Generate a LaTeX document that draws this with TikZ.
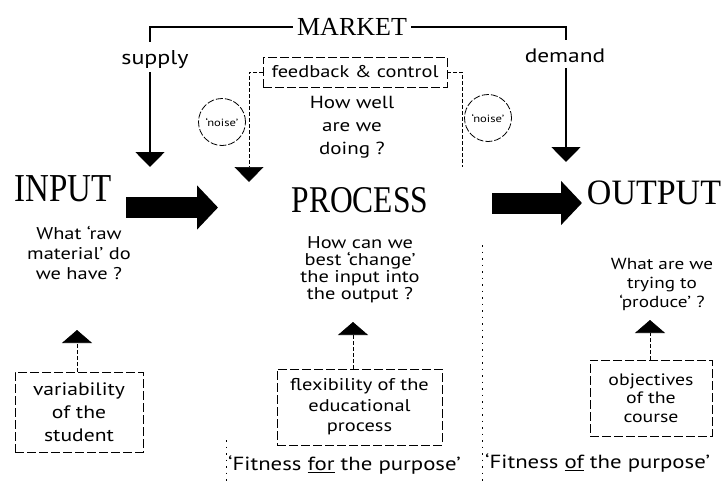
\documentclass[tikz,border=0pt]{standalone}
\usepackage{fontspec}
\usepackage{graphicx}
\setmainfont{PT Sans}[FakeStretch=1.2]
\newfontfamily\headfont{Liberation Serif}
\usetikzlibrary{arrows.meta}
\begin{document}
\begin{tikzpicture}[x=1pt,y=-1pt,
  head/.style={inner sep=0pt},
  txt/.style={align=center, inner sep=0pt, font=\fontsize{17}{20}\selectfont},
  mk/.style={line width=2.4pt},
  sd/.style={line width=1.8pt},
  dsh/.style={line width=0.7pt, dash pattern=on 4pt off 2pt},
  faint/.style={line width=0.6pt, dash pattern=on 1.5pt off 5pt},
  tri/.style={-{Triangle[length=15pt,width=29pt]}},
  smalltri/.style={-{Triangle[length=13pt,width=30pt]}},
  boxd/.style={draw, dash pattern=on 9pt off 3pt, line width=0.8pt, inner sep=0pt, align=center},
  noise/.style={draw, circle, dash pattern=on 7pt off 2pt, line width=0.8pt, minimum size=47pt, inner sep=0pt, font=\fontsize{10.5}{10.5}\selectfont},
  bigarrow/.style={line width=21pt, -{Triangle[length=21pt,width=43pt]}}
]
\useasboundingbox (0,0) rectangle (725,482);

% MARKET
\node[head, inner xsep=4pt, font=\headfont\fontsize{26}{26}\selectfont] (market) at (352,27) {MARKET};
\node[txt, font=\fontsize{20}{20}\selectfont] (supply) at (155,60) {supply};
\node[txt, font=\fontsize{19.5}{20}\selectfont] (demand) at (565,56) {demand};
\coordinate (suptop) at (150,42);
\coordinate (demtop) at (566,40);
\draw[mk] (market.west) -| (suptop);
\draw[mk] (market.east) -| (demtop);
\coordinate (supfrom) at (150,72);
\coordinate (suptip) at (150,167);
\draw[sd,tri] (supfrom) -- (suptip);
\coordinate (demfrom) at (566,68);
\coordinate (demtip) at (566,162);
\draw[sd,tri] (demfrom) -- (demtip);

% feedback
\node[boxd, minimum width=184pt, minimum height=30pt, font=\fontsize{17}{20}\selectfont] (fb) at (355,72) {feedback \& control};
\coordinate (fbl) at (249,182);
\draw[dsh,tri] (fb.west) -| (fbl);
\coordinate (fbr) at (462,167);
\draw[dsh] (fb.east) -| (fbr);
\node[noise] (n1) at (222,122) {`noise'};
\node[noise] (n2) at (488,118) {`noise'};
\node[txt, font=\fontsize{17.5}{23}\selectfont] (hw) at (352,127) {How well\\are we\\doing ?};

% main stages
\node[head, font=\headfont\fontsize{33}{33}\selectfont] (input) at (63,189) {\scalebox{1}[1.2]{INPUT}};
\node[head, font=\headfont\fontsize{31.5}{31.5}\selectfont] (process) at (360,200) {\scalebox{1}[1.2]{PROCESS}};
\node[head, font=\headfont\fontsize{34}{34}\selectfont] (output) at (654,193) {\scalebox{1}[1.05]{OUTPUT}};
\coordinate (a1s) at (126,207.5);
\coordinate (a1e) at (218,207.5);
\draw[bigarrow] (a1s) -- (a1e);
\coordinate (a2s) at (492,203);
\coordinate (a2e) at (582,203);
\draw[bigarrow] (a2s) -- (a2e);

% questions
\node[txt, font=\fontsize{17}{20}\selectfont] (qin) at (79,253) {What `raw\\material' do\\we have ?};
\node[txt, font=\fontsize{17}{17}\selectfont] (qpr) at (360,270) {How can we\\best `change'\\the input into\\the output ?};
\node[txt, font=\fontsize{16}{19}\selectfont] (qout) at (662,284) {What are we\\trying to\\`produce' ?};

% boxes
\node[boxd, minimum width=128pt, minimum height=80pt, font=\fontsize{18}{23}\selectfont] (var) at (79,412) {variability\\of the\\student};
\node[boxd, minimum width=165pt, minimum height=76pt, font=\fontsize{17}{20.5}\selectfont] (flex) at (359.5,407) {flexibility of the\\educational\\process};
\node[boxd, minimum width=122pt, minimum height=76pt, font=\fontsize{16.5}{18.5}\selectfont] (obj) at (651,398) {objectives\\of the\\course};

% small triangles
\coordinate (tin) at (77,330);
\draw[dsh,smalltri] (var.north -| tin) -- (tin);
\coordinate (tpr) at (353,322);
\draw[dsh,smalltri] (flex.north -| tpr) -- (tpr);
\coordinate (tout) at (650,320);
\draw[dsh,smalltri] (obj.north -| tout) -- (tout);

% fitness
\node[txt, anchor=west, font=\fontsize{19}{20}\selectfont] (f1) at (228,465) {`Fitness \underline{for} the purpose'};
\node[txt, anchor=west, font=\fontsize{19}{20}\selectfont] (f2) at (485,463) {`Fitness \underline{of} the purpose'};

% dotted separators
\coordinate (d1a) at (482,245);
\coordinate (d1b) at (482,482);
\draw[faint] (d1a) -- (d1b);
\coordinate (d2a) at (226,440);
\coordinate (d2b) at (226,482);
\draw[faint] (d2a) -- (d2b);
\end{tikzpicture}
\end{document}
